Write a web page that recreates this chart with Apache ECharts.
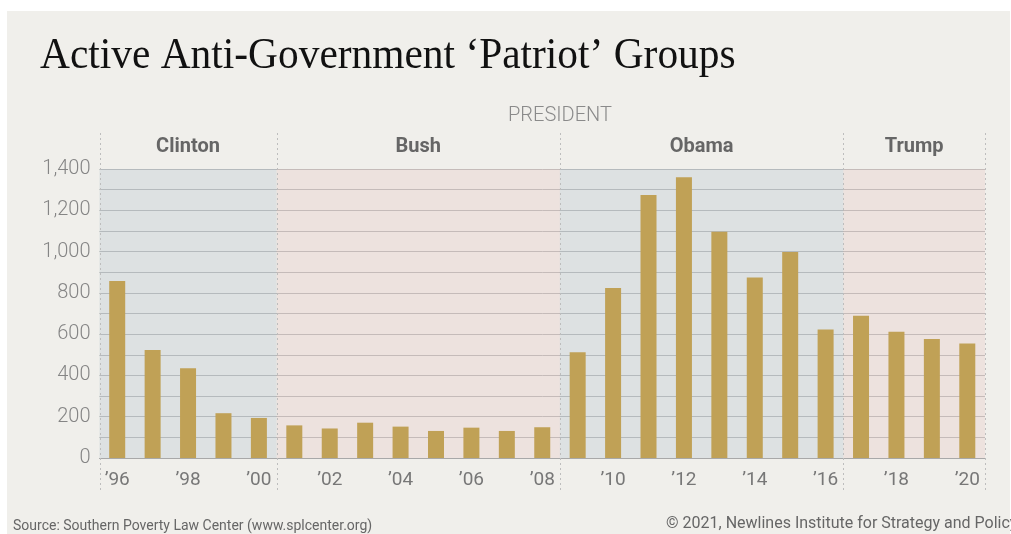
<!DOCTYPE html>
<html>
<head>
<meta charset="utf-8">
<script src="https://cdn.jsdelivr.net/npm/echarts@6/dist/echarts.min.js"></script>
<style>
  html, body { margin: 0; padding: 0; background: #ffffff; }
  #main { width: 1011px; height: 534px; }
</style>
</head>
<body>
<div id="main"></div>
<script>
// data
const years = ['\u201996', '\u201997', '\u201998', '\u201999', '\u201900', '\u201901', '\u201902', '\u201903', '\u201904',
  '\u201905', '\u201906', '\u201907', '\u201908', '\u201909', '\u201910', '\u201911', '\u201912', '\u201913', '\u201914',
  '\u201915', '\u201916', '\u201917', '\u201918', '\u201919', '\u201920'];
const groups = [858, 523, 435, 217, 194, 158, 143, 171, 152, 131, 147, 131, 149,
  512, 824, 1274, 1360, 1096, 874, 998, 623, 689, 612, 576, 555];
const presidents = ['Clinton', 'Bush', 'Obama', 'Trump'];
const termFirst = ['\u201996', '\u201901', '\u201909', '\u201917'];
const termLast = ['\u201900', '\u201908', '\u201916', '\u201920'];
const termColors = ['rgba(202,211,217,0.5)', 'rgba(234,213,209,0.5)', 'rgba(202,211,217,0.5)', 'rgba(234,213,209,0.5)'];

const chartDom = document.getElementById('main');
const myChart = echarts.init(chartDom);

const option = {
  backgroundColor: '#ffffff',
  animation: false,
  textStyle: { fontFamily: 'Roboto' },
  grid: { left: 99.5, right: 26, top: 169, bottom: 76 },
  xAxis: {
    type: 'category',
    data: years,
    axisLine: { lineStyle: { color: '#a8a8a8', width: 1 } },
    axisTick: { show: false },
    axisLabel: { interval: 1, color: '#777', fontSize: 19, margin: 13 },
    splitLine: { show: false }
  },
  yAxis: {
    type: 'value',
    min: 0,
    max: 1400,
    interval: 200,
    axisLine: { show: false },
    axisTick: { show: false },
    axisLabel: {
      color: '#858585', fontSize: 20, fontWeight: 300, margin: 9,
      formatter: v => v.toLocaleString('en-US')
    },
    splitLine: { lineStyle: { color: '#a0a0a0', width: 1 } },
    minorTick: { show: false, splitNumber: 2 },
    minorSplitLine: { show: true, lineStyle: { color: '#a0a0a0', width: 1 } }
  },
  series: [{
    type: 'bar',
    data: groups,
    barWidth: 16,
    itemStyle: { color: '#c0a156' },
    markArea: {
      silent: true,
      data: presidents.map((p, i) => [
        {
          name: p,
          xAxis: termFirst[i],
          itemStyle: { color: termColors[i] },
          label: {
            show: true, position: 'top', distance: 12,
            color: '#666', fontSize: 20, fontWeight: 'bold', fontFamily: 'Roboto'
          }
        },
        // the last term runs to the end of the axis
        { xAxis: i === presidents.length - 1 ? Infinity : termLast[i] }
      ])
    }
  }]
};
myChart.setOption(option);

// frame, title, notes and the dotted term dividers placed from the axes
const x0 = myChart.convertToPixel({ xAxisIndex: 0 }, years[0]);
const x1 = myChart.convertToPixel({ xAxisIndex: 0 }, years[1]);
const band = x1 - x0;
const yTop = myChart.convertToPixel({ yAxisIndex: 0 }, 1400);
const yZero = myChart.convertToPixel({ yAxisIndex: 0 }, 0);

const edges = termFirst.map(y => myChart.convertToPixel({ xAxisIndex: 0 }, y) - band / 2);
edges.push(myChart.convertToPixel({ xAxisIndex: 0 }, termLast[termLast.length - 1]) + band / 2);

const dividers = edges.map(x => ({
  type: 'line',
  silent: true,
  z: 10,
  shape: { x1: Math.round(x) + 0.5, y1: yTop - 36, x2: Math.round(x) + 0.5, y2: yZero + 34 },
  style: { stroke: '#bdbdbd', lineWidth: 1, lineDash: [2, 3] }
}));

myChart.setOption({
  graphic: [
    {
      type: 'rect', z: -10, silent: true,
      shape: { x: 7, y: 11, width: 1003, height: 523 },
      style: { fill: '#f0efeb' }
    },
    {
      type: 'text', x: 40, y: 56, scaleX: 0.92, silent: true,
      style: {
        text: 'Active Anti-Government \u2018Patriot\u2019 Groups',
        fill: '#111', font: '45px "Liberation Serif"', verticalAlign: 'middle'
      }
    },
    {
      type: 'text', x: edges[2], y: 116, silent: true,
      style: {
        text: 'PRESIDENT', fill: '#8a8a8a', font: '300 20px Roboto',
        align: 'center', verticalAlign: 'middle'
      }
    },
    {
      type: 'text', x: 13, y: 526, silent: true,
      style: {
        text: 'Source: Southern Poverty Law Center (www.splcenter.org)',
        fill: '#666', font: '14px Roboto', verticalAlign: 'middle'
      }
    },
    {
      type: 'text', x: 666, y: 524, silent: true,
      style: {
        text: '\u00a9 2021, Newlines Institute for Strategy and Policy',
        fill: '#666', font: '16px Roboto', verticalAlign: 'middle'
      }
    }
  ].concat(dividers)
});
</script>
</body>
</html>
